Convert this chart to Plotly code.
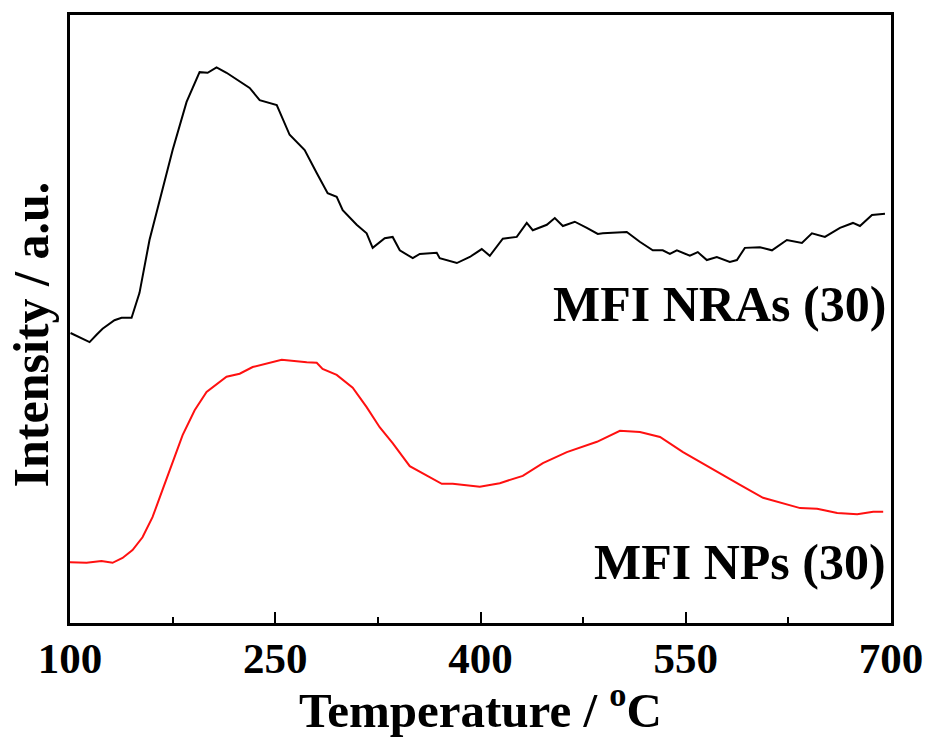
import plotly.graph_objects as go

# MFI NRAs (30) - black curve
nra_temp = [100.4, 106.9, 114.3, 119.4, 123.8, 132.5, 137.7, 145.0, 150.8, 158.1,
            166.9, 175.0, 185.2, 194.7, 200.6, 207.1, 214.4, 224.0, 231.3, 238.6,
            251.1, 260.5, 271.5, 280.3, 288.3, 294.9, 299.3, 309.5, 316.8, 321.2,
            330.0, 335.8, 341.0, 350.5, 355.6, 368.0, 370.2, 382.7, 392.2, 400.9,
            406.8, 416.3, 426.5, 433.8, 438.2, 448.5, 454.3, 460.2, 468.9, 477.7,
            485.7, 489.4, 506.9, 516.4, 525.9, 533.2, 538.4, 543.5, 553.0, 558.8,
            565.4, 572.7, 582.2, 587.4, 593.2, 604.2, 613.0, 623.9, 634.9, 642.2,
            651.7, 662.7, 672.2, 677.3, 686.1, 695.6]
nra_int = [47.7, 47.0, 46.2, 47.4, 48.4, 49.8, 50.2, 50.2, 54.3, 63.0,
           70.7, 77.8, 85.7, 90.6, 90.5, 91.4, 90.5, 89.0, 88.0, 86.0,
           85.2, 80.3, 77.8, 74.0, 70.7, 70.1, 67.9, 65.5, 64.1, 61.7,
           63.3, 63.5, 61.3, 60.0, 60.7, 60.9, 60.0, 59.2, 60.2, 61.5,
           60.4, 63.2, 63.5, 65.8, 64.6, 65.5, 66.6, 65.3, 66.0, 65.0,
           64.0, 64.1, 64.3, 62.7, 61.3, 61.3, 60.7, 61.3, 60.4, 61.0,
           59.7, 60.2, 59.4, 59.7, 61.7, 61.8, 61.3, 63.0, 62.5, 64.1,
           63.5, 65.0, 65.8, 65.3, 67.1, 67.3]

# MFI NPs (30) - red curve
np_temp = [99.6, 112.1, 123.0, 131.1, 138.4, 145.7, 153.0, 160.3, 167.6, 175.0,
           182.3, 191.1, 199.8, 214.4, 224.0, 233.5, 245.9, 254.7, 273.0, 280.3,
           284.6, 294.9, 306.6, 316.8, 326.3, 335.8, 348.3, 360.7, 371.7, 379.7,
           399.5, 414.1, 430.9, 445.6, 463.1, 485.1, 501.9, 516.5, 531.2, 548.0,
           569.9, 589.7, 606.5, 633.6, 646.0, 660.7, 675.3, 687.0, 694.3]
np_int = [10.0, 9.9, 10.2, 9.9, 10.7, 12.0, 14.1, 17.4, 21.9, 26.3,
          30.9, 35.0, 38.0, 40.5, 41.0, 42.1, 42.8, 43.3, 42.9, 42.8,
          41.8, 40.8, 38.7, 35.5, 32.2, 29.6, 25.8, 24.3, 22.9, 22.9,
          22.4, 23.0, 24.2, 26.3, 28.1, 29.8, 31.6, 31.4, 30.6, 28.1,
          25.2, 22.7, 20.6, 18.9, 18.8, 18.1, 17.9, 18.3, 18.3]

x_ticks = [100, 250, 400, 550, 700]
x_minor = [175, 325, 475, 625]
labels = ["MFI NRAs (30)", "MFI NPs (30)"]
x_title = "Temperature / <sup>o</sup>C"
y_title = "Intensity / a.u."

FONT = "Liberation Serif"

fig = go.Figure()
fig.add_trace(go.Scatter(x=nra_temp, y=nra_int, mode="lines",
                         line=dict(color="black", width=2), showlegend=False))
fig.add_trace(go.Scatter(x=np_temp, y=np_int, mode="lines",
                         line=dict(color="#ff1010", width=2), showlegend=False))

fig.add_annotation(x=698, y=52.5, xref="x", yref="y", text="<b>" + labels[0] + "</b>",
                   showarrow=False, xanchor="right", yanchor="middle",
                   font=dict(family=FONT, size=50, color="black"))
fig.add_annotation(x=698, y=10.0, xref="x", yref="y", text="<b>" + labels[1] + "</b>",
                   showarrow=False, xanchor="right", yanchor="middle",
                   font=dict(family=FONT, size=50, color="black"))

# axis titles
fig.add_annotation(x=0.5, y=-0.138, xref="paper", yref="paper",
                   text="<b>" + x_title + "</b>", showarrow=False,
                   xanchor="center", yanchor="middle",
                   font=dict(family=FONT, size=49, color="black"))
fig.add_annotation(x=-0.048, y=0.474, xref="paper", yref="paper",
                   text="<b>" + y_title + "</b>", showarrow=False, textangle=-90,
                   xanchor="center", yanchor="middle", borderpad=0,
                   font=dict(family=FONT, size=50, color="black"))

# the page body adds an 8 px offset, so the figure is 8 px smaller
fig.update_layout(
    width=927, height=732,
    margin=dict(l=62, r=44, t=7, b=117),
    paper_bgcolor="white", plot_bgcolor="white",
    font=dict(family=FONT, color="black"),
    xaxis=dict(
        range=[100, 700], tickmode="array", tickvals=x_ticks,
        ticktext=["<b>%d</b>" % v for v in x_ticks],
        ticks="inside", ticklen=11, tickwidth=2, tickcolor="black",
        minor=dict(ticks="inside", ticklen=6, tickwidth=2, tickcolor="black",
                   tickvals=x_minor),
        showline=True, linewidth=2.5, linecolor="black", mirror=True,
        showgrid=False, zeroline=False, automargin=False,
        ticklabelstandoff=-4,
        tickfont=dict(family=FONT, size=43, color="black"),
    ),
    yaxis=dict(
        range=[0, 100], showticklabels=False, ticks="",
        showline=True, linewidth=2.5, linecolor="black", mirror=True,
        showgrid=False, zeroline=False, automargin=False,
    ),
)

fig.write_html("out.html")
